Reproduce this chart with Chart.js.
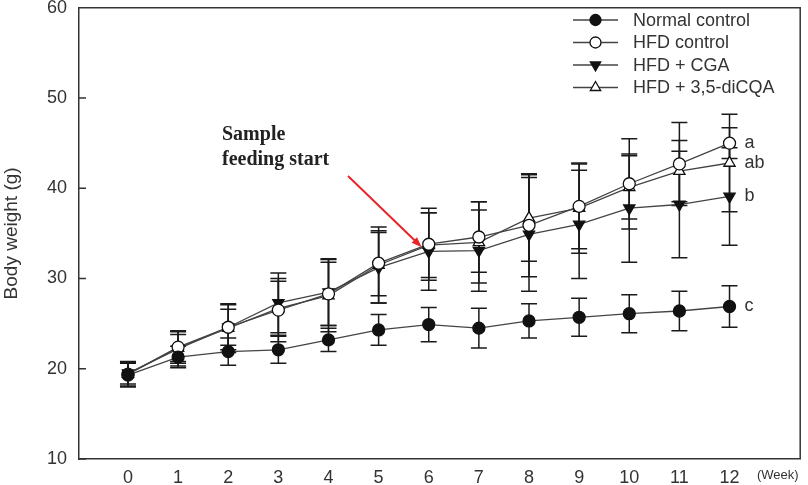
<!DOCTYPE html>
<html lang="en">
<head>
    <meta charset="UTF-8">
    <title>Body weight change</title>
    <script src="https://cdn.jsdelivr.net/npm/chart.js"></script>
    <style>
        html, body { margin: 0; padding: 0; background: #ffffff; }
        .chart-container { position: relative; width: 808px; height: 485px; }
    </style>
</head>
<body>
    <div class="chart-container">
        <canvas id="weightChart"></canvas>
    </div>

    <script>
        // weeks on the x axis
        const weeks = [0, 1, 2, 3, 4, 5, 6, 7, 8, 9, 10, 11, 12];
        const yTicks = [10, 20, 30, 40, 50, 60];

        const seriesNames = ['Normal control', 'HFD control', 'HFD + CGA', 'HFD + 3,5-diCQA'];

        // mean body weight (g)
        const normalCtrl = [19.3, 21.3, 21.9, 22.1, 23.2, 24.3, 24.9, 24.5, 25.3, 25.7, 26.1, 26.4, 26.9];
        const hfdCtrl    = [19.4, 22.4, 24.6, 26.5, 28.3, 31.7, 33.8, 34.6, 35.9, 38.0, 40.5, 42.7, 45.0];
        const hfdCga     = [19.5, 22.2, 24.6, 27.3, 28.5, 31.2, 33.0, 33.1, 34.9, 36.0, 37.8, 38.2, 39.1];
        const hfdDicqa   = [19.4, 22.3, 24.5, 26.7, 28.1, 31.5, 33.7, 34.0, 36.7, 37.8, 40.1, 41.9, 42.8];

        // error bars (SD)
        const normalErr = [1.3, 1.2, 1.5, 1.5, 1.3, 1.7, 1.9, 2.2, 1.9, 2.1, 2.1, 2.2, 2.3];
        const hfdErr    = [1.3, 1.8, 2.5, 3.5, 3.5, 3.6, 4.0, 3.9, 5.7, 4.7, 5.0, 4.6, 1.7];
        const cgaErr    = [1.2, 1.9, 2.0, 3.3, 3.7, 3.9, 4.3, 4.5, 6.3, 6.0, 6.0, 5.9, 5.4];
        const dicqaErr  = [1.4, 1.5, 2.7, 3.0, 4.0, 4.2, 3.6, 4.5, 4.8, 5.0, 3.5, 3.4, 5.4];

        // significance letters at week 12
        const sigLetters = ['c', 'a', 'b', 'ab'];

        const FONT = "'Liberation Sans', Arial, sans-serif";
        const INK = '#333333';

        const markers = [
            { pointStyle: 'circle',   rotation: 0,   fill: '#111111', radius: 6 },
            { pointStyle: 'circle',   rotation: 0,   fill: '#ffffff', radius: 6 },
            { pointStyle: 'triangle', rotation: 180, fill: '#111111', radius: 6.5 },
            { pointStyle: 'triangle', rotation: 0,   fill: '#ffffff', radius: 6.5 }
        ];
        const means = [normalCtrl, hfdCtrl, hfdCga, hfdDicqa];
        const errs = [normalErr, hfdErr, cgaErr, dicqaErr];

        const datasets = means.map((vals, i) => ({
            label: seriesNames[i],
            data: weeks.map((w, j) => ({ x: w, y: vals[j] })),
            errors: errs[i],
            borderColor: '#444444',
            borderWidth: 1.3,
            pointStyle: markers[i].pointStyle,
            rotation: markers[i].rotation,
            pointRadius: markers[i].radius,
            pointBackgroundColor: markers[i].fill,
            pointBorderColor: '#111111',
            pointBorderWidth: 1.3,
            tension: 0,
            fill: false
        }));

        const errorBarPlugin = {
            id: 'errorBars',
            beforeDatasetsDraw(chart) {
                const ctx = chart.ctx;
                const xs = chart.scales.x, ys = chart.scales.y;
                ctx.save();
                ctx.strokeStyle = '#1a1a1a';
                ctx.lineWidth = 1.5;
                chart.data.datasets.forEach(ds => {
                    ds.data.forEach((p, j) => {
                        const e = ds.errors[j];
                        const px = xs.getPixelForValue(p.x);
                        const top = ys.getPixelForValue(p.y + e);
                        const bot = ys.getPixelForValue(p.y - e);
                        ctx.beginPath();
                        ctx.moveTo(px, top); ctx.lineTo(px, bot);
                        ctx.moveTo(px - 8, top); ctx.lineTo(px + 8, top);
                        ctx.moveTo(px - 8, bot); ctx.lineTo(px + 8, bot);
                        ctx.stroke();
                    });
                });
                ctx.restore();
            }
        };

        const decorPlugin = {
            id: 'decor',
            afterDraw(chart) {
                const ctx = chart.ctx;
                const a = chart.chartArea;
                const xs = chart.scales.x, ys = chart.scales.y;
                ctx.save();

                // top and right frame, inner y ticks
                ctx.strokeStyle = INK;
                ctx.lineWidth = 1.5;
                ctx.beginPath();
                ctx.moveTo(a.left, a.top); ctx.lineTo(a.right, a.top); ctx.lineTo(a.right, a.bottom);
                yTicks.forEach(v => {
                    const py = ys.getPixelForValue(v);
                    ctx.moveTo(a.left, py); ctx.lineTo(a.left + 7, py);
                });
                ctx.stroke();

                // legend
                ctx.font = '18px ' + FONT;
                ctx.textBaseline = 'middle';
                ctx.textAlign = 'left';
                chart.data.datasets.forEach((ds, i) => {
                    const ly = 20 + i * 22.5;
                    ctx.strokeStyle = '#444444';
                    ctx.lineWidth = 1.3;
                    ctx.beginPath();
                    ctx.moveTo(573, ly); ctx.lineTo(618, ly);
                    ctx.stroke();
                    ctx.fillStyle = markers[i].fill;
                    ctx.strokeStyle = '#111111';
                    Chart.helpers.drawPoint(ctx, {
                        pointStyle: markers[i].pointStyle,
                        rotation: markers[i].rotation,
                        radius: markers[i].radius - 0.5,
                        borderWidth: 1.3
                    }, 595.5, ly);
                    ctx.fillStyle = INK;
                    ctx.fillText(ds.label, 633, ly + 1);
                });

                // significance letters
                const last = weeks.length - 1;
                ctx.font = '18px ' + FONT;
                ctx.fillStyle = INK;
                means.forEach((vals, i) => {
                    ctx.fillText(sigLetters[i], xs.getPixelForValue(weeks[last]) + 15, ys.getPixelForValue(vals[last]));
                });

                // x axis unit
                ctx.font = '13px ' + FONT;
                ctx.fillText('(Week)', 757, 475);

                // annotation
                ctx.font = 'bold 20px "Liberation Serif", "Times New Roman", serif';
                ctx.fillStyle = '#222222';
                ctx.fillText('Sample', 222, 135);
                ctx.fillText('feeding start', 222, 160);

                const tx = xs.getPixelForValue(6) - 7;
                const ty = ys.getPixelForValue(hfdCtrl[6]) + 3;
                const sx = 348, sy = 176;
                const ang = Math.atan2(ty - sy, tx - sx);
                ctx.strokeStyle = '#e8242a';
                ctx.fillStyle = '#e8242a';
                ctx.lineWidth = 2;
                ctx.beginPath();
                ctx.moveTo(sx, sy);
                ctx.lineTo(tx - 6 * Math.cos(ang), ty - 6 * Math.sin(ang));
                ctx.stroke();
                ctx.beginPath();
                ctx.moveTo(tx, ty);
                ctx.lineTo(tx - 11 * Math.cos(ang - 0.35), ty - 11 * Math.sin(ang - 0.35));
                ctx.lineTo(tx - 11 * Math.cos(ang + 0.35), ty - 11 * Math.sin(ang + 0.35));
                ctx.closePath();
                ctx.fill();

                ctx.restore();
            }
        };

        new Chart(document.getElementById('weightChart'), {
            type: 'line',
            data: { datasets: datasets },
            options: {
                responsive: true,
                maintainAspectRatio: false,
                animation: false,
                layout: { padding: { top: 5, right: 7, left: 0, bottom: 0 } },
                plugins: {
                    legend: { display: false },
                    tooltip: { enabled: false }
                },
                scales: {
                    x: {
                        type: 'linear',
                        min: -0.977,
                        max: 13.41,
                        afterBuildTicks: s => { s.ticks = weeks.map(v => ({ value: v })); },
                        afterFit: s => { s.height = 26; s.paddingLeft = 0; s.paddingRight = 0; },
                        grid: { display: false, drawTicks: false },
                        border: { display: true, color: INK, width: 1.5 },
                        ticks: {
                            autoSkip: false,
                            maxRotation: 0,
                            padding: 8,
                            color: INK,
                            font: { family: FONT, size: 18 }
                        }
                    },
                    y: {
                        min: 10,
                        max: 60,
                        afterBuildTicks: s => { s.ticks = yTicks.map(v => ({ value: v })); },
                        afterFit: s => { s.width = 79; s.paddingTop = 0; s.paddingBottom = 0; },
                        grid: { display: false, drawTicks: false },
                        border: { display: true, color: INK, width: 1.5 },
                        ticks: {
                            padding: 12,
                            color: INK,
                            font: { family: FONT, size: 18 }
                        },
                        title: {
                            display: true,
                            text: 'Body weight (g)',
                            color: INK,
                            padding: { top: 0, bottom: 0 },
                            font: { family: FONT, size: 19 }
                        }
                    }
                }
            },
            plugins: [errorBarPlugin, decorPlugin]
        });
    </script>
</body>
</html>
